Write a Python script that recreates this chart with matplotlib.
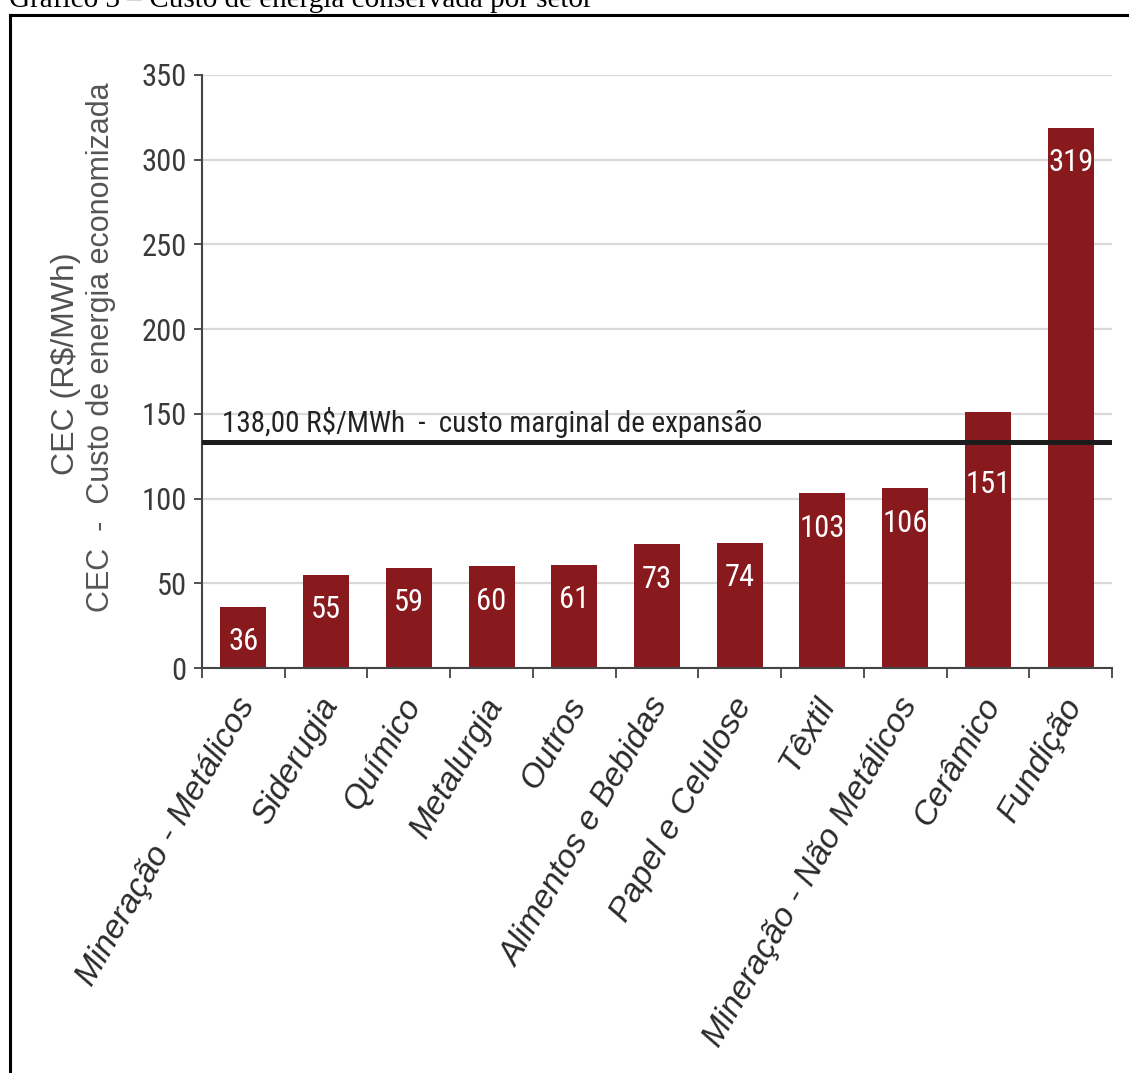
import matplotlib.pyplot as plt
from matplotlib.lines import Line2D
from matplotlib.ticker import MultipleLocator
from matplotlib import font_manager
import matplotlib.transforms as mtransforms

# Custo de energia conservada por setor (R$/MWh)
setores = ['Mineração - Metálicos', 'Siderugia', 'Químico', 'Metalurgia', 'Outros',
           'Alimentos e Bebidas', 'Papel e Celulose', 'Têxtil',
           'Mineração - Não Metálicos', 'Cerâmico', 'Fundição']
cec = [36, 55, 59, 60, 61, 73, 74, 103, 106, 151, 319]

# custo marginal de expansão: rótulo diz 138, mas a linha no gráfico fica um pouco abaixo
cme_rotulo = '138,00 R$/MWh  -  custo marginal de expansão'
cme_linha = 133.5

y_ticks = [0, 50, 100, 150, 200, 250, 300, 350]

# fonte estreita (Arial Narrow no original) - usa a que existir
nomes = {f.name for f in font_manager.fontManager.ttflist}
narrow = {'family': 'Liberation Sans'}
scale = 0.86
for nome in ['Liberation Sans Narrow', 'Roboto Condensed', 'Open Sans Condensed']:
    if nome in nomes:
        narrow = {'family': nome}
        scale = 1.0
        break
else:
    if any(f.name == 'DejaVu Sans' and f.stretch == 'condensed'
           for f in font_manager.fontManager.ttflist):
        narrow = {'family': 'DejaVu Sans', 'stretch': 'condensed'}
        scale = 0.9

BAR_COLOR = '#881a1e'

W, H = 1129, 1073
fig = plt.figure(figsize=(W / 100, H / 100), dpi=100)
ax = fig.add_axes([202 / W, 1 - 668 / H, 910 / W, 593 / H])

x = list(range(len(setores)))
ax.bar(x, cec, width=0.555, color=BAR_COLOR, zorder=2)

# rótulos brancos dentro das barras
for xi, v in zip(x, cec):
    if cme_linha < v < cme_linha + 25:
        # barra cruza a linha perto do topo -> rótulo abaixo da linha
        y, dy = cme_linha, -31
    else:
        y, dy = v, -25
    ax.annotate(str(v), (xi, y), xytext=(0, dy), textcoords='offset points',
                ha='center', va='center', color='white', fontsize=22 * scale,
                zorder=4, **narrow)

# linha do custo marginal
ax.axhline(cme_linha, color='#1c1c1c', lw=3.6, zorder=3)
ax.text(-0.26, 139.5, cme_rotulo, ha='left', va='baseline', fontsize=21 * scale,
        color='#222222', zorder=4, **narrow)

ax.set_xlim(-0.5, len(setores) - 0.5)
ax.set_ylim(0, 350)
ax.set_yticks(y_ticks)
ax.set_yticklabels([str(t) for t in y_ticks], fontsize=22 * scale, color='#3a3a3a', **narrow)
ax.yaxis.grid(True, color='#d9d9d9', lw=1.6, zorder=0)
ax.set_axisbelow(True)

for s in ['top', 'right']:
    ax.spines[s].set_visible(False)
for s in ['left', 'bottom']:
    ax.spines[s].set_color('#444444')
    ax.spines[s].set_linewidth(1.5)

ax.tick_params(axis='y', length=6, width=1.3, color='#444444', pad=5)
ax.set_xticks(x)
ax.xaxis.set_minor_locator(MultipleLocator(1, offset=0.5))
ax.tick_params(axis='x', which='major', length=0, pad=23)
ax.tick_params(axis='x', which='minor', length=7.5, width=1.3, color='#444444')

offset = mtransforms.ScaledTranslation(5 / 100, 0, fig.dpi_scale_trans)
ax.set_xticklabels(setores, rotation=60, ha='right', va='center',
                   rotation_mode='anchor', fontsize=24, style='italic',
                   family='Liberation Sans', color='#2a2a2a')
for lab in ax.get_xticklabels():
    lab.set_transform(lab.get_transform() + offset)

# rótulo do eixo y (duas linhas)
fig.text(66 / W, 1 - 364 / H, 'CEC (R$/MWh)', rotation=90, ha='center', va='center',
         fontsize=23, family='Liberation Sans', color='#505050')
fig.text(101 / W, 1 - 347 / H, 'CEC  -  Custo de energia economizada', rotation=90,
         ha='center', va='center', fontsize=22, family='Liberation Sans', color='#555555')

# título cortado no topo e moldura
fig.text(9 / W, 1 - 7 / H, 'Gráfico 3 – Custo de energia conservada por setor',
         ha='left', va='baseline', fontsize=21, family='Liberation Serif', color='black')
fx, fy = 9.5 / W, 1 - 15 / H
fig.add_artist(Line2D([fx, fx], [0, fy], transform=fig.transFigure, color='black', lw=2.2))
fig.add_artist(Line2D([fx, 1], [fy, fy], transform=fig.transFigure, color='black', lw=2.2))

fig.savefig('out.png', dpi=100)
